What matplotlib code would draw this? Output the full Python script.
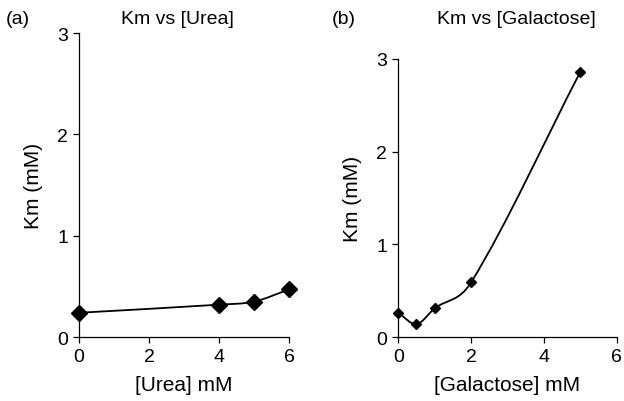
import numpy as np
import matplotlib
matplotlib.use("Agg")
import matplotlib.pyplot as plt
from matplotlib.path import Path
from matplotlib.patches import PathPatch

plt.rcParams["font.family"] = ["Liberation Sans", "DejaVu Sans"]
plt.rcParams["font.size"] = 14

# (a) Km vs [Urea]
urea_conc = [0, 4, 5, 6]
urea_km = [0.24, 0.32, 0.35, 0.47]

# (b) Km vs [Galactose]
gal_conc = [0, 0.5, 1, 2, 5]
gal_km = [0.26, 0.14, 0.31, 0.59, 2.86]

x_ticks = [0, 2, 4, 6]
y_ticks = [0, 1, 2, 3]


def smooth_path(x, y):
    """Smoothed line through the points, cubic Bezier segments (x-parameterised)."""
    x = np.asarray(x, float)
    y = np.asarray(y, float)
    n = len(x)
    slopes = np.empty(n)
    for i in range(n):
        a = max(i - 1, 0)
        b = min(i + 1, n - 1)
        slopes[i] = (y[b] - y[a]) / (x[b] - x[a])
    verts = [(x[0], y[0])]
    codes = [Path.MOVETO]
    for i in range(n - 1):
        h = (x[i + 1] - x[i]) / 3.0
        verts += [(x[i] + h, y[i] + slopes[i] * h),
                  (x[i + 1] - h, y[i + 1] - slopes[i + 1] * h),
                  (x[i + 1], y[i + 1])]
        codes += [Path.CURVE4] * 3
    return Path(verts, codes)


def style_axes(ax):
    ax.set_xlim(0, 6)
    ax.set_ylim(0, 3)
    ax.set_xticks(x_ticks)
    ax.set_yticks(y_ticks)
    for side in ("top", "right"):
        ax.spines[side].set_visible(False)
    for side in ("left", "bottom"):
        ax.spines[side].set_linewidth(0.9)
    ax.tick_params(direction="out", length=4, width=0.9, labelsize=14, pad=4)


fig = plt.figure(figsize=(6.24, 4.02), dpi=100)

ax1 = fig.add_axes([0.1266, 0.159, 0.3365, 0.756])
ax1.add_patch(PathPatch(smooth_path(urea_conc, urea_km), fill=False,
                        lw=1.3, color="black", transform=ax1.transData))
ax1.plot(urea_conc, urea_km, ls="none", marker="D", ms=8, color="black",
         clip_on=False, zorder=3)
style_axes(ax1)
ax1.set_xlabel("[Urea] mM", fontsize=15, labelpad=7)
ax1.set_ylabel("Km (mM)", fontsize=15, labelpad=10)

ax2 = fig.add_axes([0.6383, 0.159, 0.35, 0.692])
ax2.add_patch(PathPatch(smooth_path(gal_conc, gal_km), fill=False,
                        lw=1.3, color="black", transform=ax2.transData))
ax2.plot(gal_conc, gal_km, ls="none", marker="D", ms=5, color="black",
         clip_on=False, zorder=3)
style_axes(ax2)
ax2.set_xlabel("[Galactose] mM", fontsize=15, labelpad=7)
ax2.set_ylabel("Km (mM)", fontsize=15, labelpad=10)

fig.text(6 / 624, 1 - 20 / 402, "(a)", va="center", ha="left")
fig.text(177 / 624, 1 - 20 / 402, "Km vs [Urea]", va="center", ha="center")
fig.text(332 / 624, 1 - 20 / 402, "(b)", va="center", ha="left")
fig.text(516 / 624, 1 - 20 / 402, "Km vs [Galactose]", va="center", ha="center")

fig.savefig("out.png", dpi=100)
